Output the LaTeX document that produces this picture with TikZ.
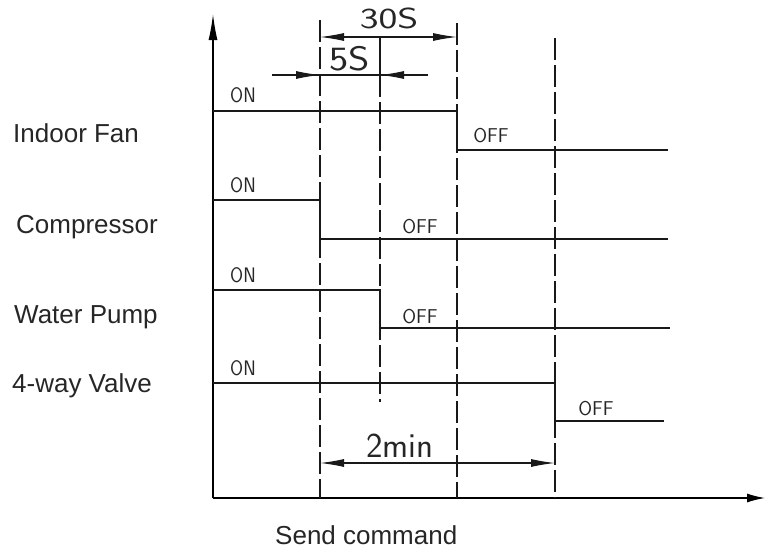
\documentclass[tikz,border=0pt]{standalone}
\usepackage{fontspec}
\setmainfont{Liberation Sans}
\usetikzlibrary{arrows.meta}
\newcommand{\cadtxt}[3]{{\fontspec{Latin Modern Sans}\fontsize{#1}{#1}\selectfont\scalebox{#2}[1]{#3}}}
\begin{document}
\begin{tikzpicture}[x=1pt,y=-1pt,
  sig/.style={line width=1.3pt, black!90},
  axisline/.style={line width=1.3pt, black, -{Latex[length=26pt,width=9pt]}},
  dashline/.style={line width=1.1pt, black!90, dash pattern=on 22pt off 5pt},
  dimline/.style={line width=1.1pt, black!90},
  dimtip/.style={-{Latex[length=24pt,width=8pt]}},
  lbl/.style={anchor=base west, inner sep=0pt, font=\fontsize{26}{31}\selectfont, text=black!85},
  cad/.style={anchor=base, inner sep=0pt, text=black!85}]
\useasboundingbox (0,0) rectangle (765,549);
% axes
\coordinate (O) at (213,498);
\coordinate (ytop) at (213,14);
\coordinate (xend) at (765,498);
\draw[axisline] (O) -- (ytop);
\draw[line width=1.3pt, -{Latex[length=18pt,width=9pt]}] (O) -- (xend);
% dashed verticals
\draw[dashline] (320,20) -- (320,498);
\draw[dimline] (380,37) -- (380,75);
\draw[dashline] (380,75) -- (380,402);
\draw[dashline] (457,23) -- (457,498);
\draw[dashline] (555,38) -- (555,498);
% Indoor fan
\draw[sig] (213,111) -- (457,111) -- (457,150) -- (668,150);
% Compressor
\draw[sig] (213,200) -- (320,200) -- (320,239) -- (668,239);
% Water pump
\draw[sig] (213,290) -- (380,290) -- (380,328) -- (670,328);
% 4-way valve
\draw[sig] (213,383) -- (555,383) -- (555,421) -- (664,421);
% 30S dimension
\coordinate (d30a) at (320,37);
\coordinate (d30b) at (457,37);
\draw[dimline, {Latex[length=24pt,width=8pt]}-{Latex[length=24pt,width=8pt]}] (d30a) -- (d30b);
% 5S dimension
\draw[dimline] (272,75) -- (428,75);
\draw[dimline, dimtip] (290,75) -- (320,75);
\draw[dimline, dimtip] (410,75) -- (380,75);
% 2min dimension
\draw[dimline, {Latex[length=24pt,width=8pt]}-{Latex[length=24pt,width=8pt]}] (320,463) -- (555,463);
% CAD labels
\node[cad] (t30) at (389,28) {\cadtxt{29}{1.38}{30S}};
\node[cad] (t5) at (350,70) {\cadtxt{34}{1.2}{5S}};
\node[cad] (t2) at (400,457) {\cadtxt{35}{1}{2min}};
\node[cad] (on1) at (243,102) {\cadtxt{21}{0.9}{ON}};
\node[cad] (on2) at (243,192) {\cadtxt{21}{0.9}{ON}};
\node[cad] (on3) at (243,282) {\cadtxt{21}{0.9}{ON}};
\node[cad] (on4) at (243,375) {\cadtxt{21}{0.9}{ON}};
\node[cad] (off1) at (491,142) {\cadtxt{20}{1}{OFF}};
\node[cad] (off2) at (420,233) {\cadtxt{20}{1}{OFF}};
\node[cad] (off3) at (420,323) {\cadtxt{20}{1}{OFF}};
\node[cad] (off4) at (596,415) {\cadtxt{20}{1}{OFF}};
% left labels
\node[lbl] (l1) at (13,142) {Indoor Fan};
\node[lbl] (l2) at (16,233) {Compressor};
\node[lbl] (l3) at (14,323) {Water Pump};
\node[lbl] (l4) at (12,392) {4-way Valve};
\node[lbl] (send) at (275,544) {Send command};
\end{tikzpicture}
\end{document}
